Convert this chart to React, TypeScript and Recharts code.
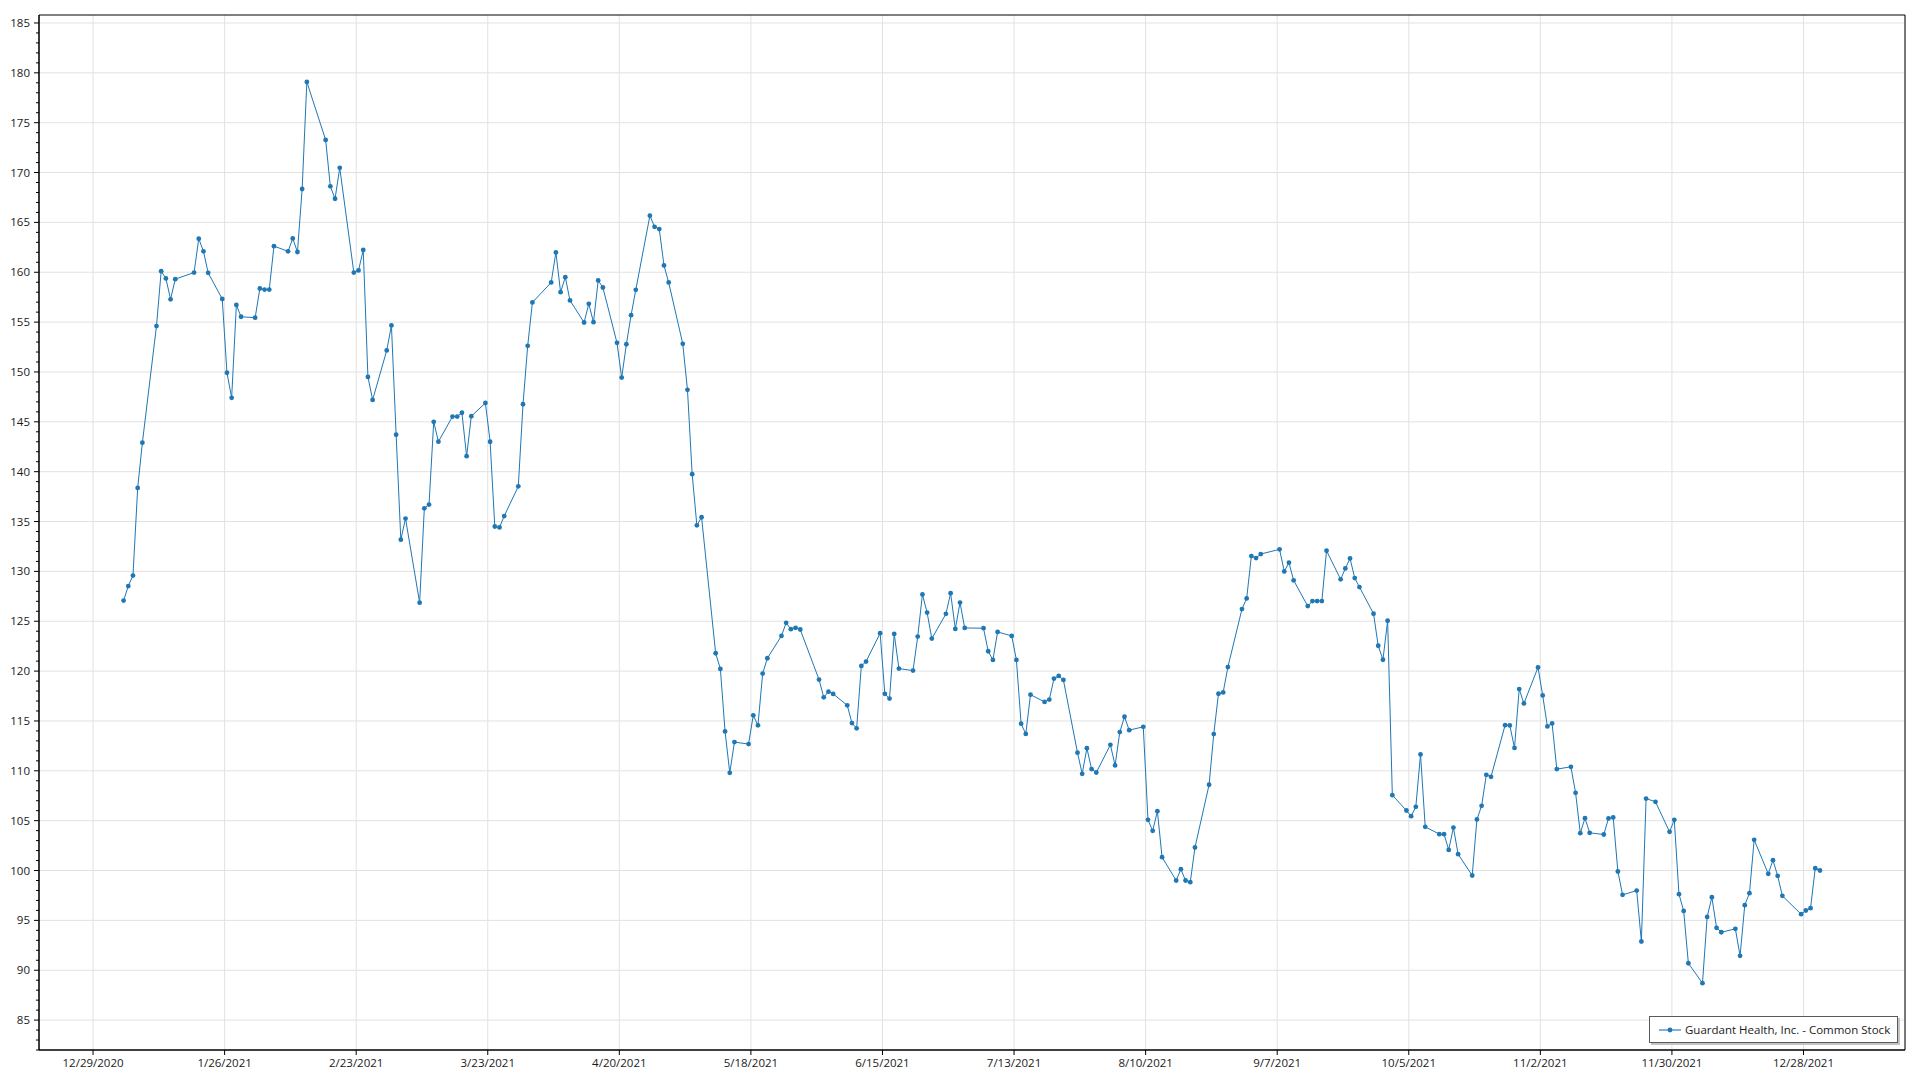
import { LineChart, Line, XAxis, YAxis, CartesianGrid, ReferenceArea } from 'recharts'

const YEAR = 2021
const SERIES_NAME = 'Guardant Health, Inc. - Common Stock'

// trading sessions (M/D, 2021)
const sessionDays = [
  '1/4', '1/5', '1/6', '1/7', '1/8', '1/11', '1/12', '1/13', '1/14', '1/15', '1/19', '1/20', '1/21', '1/22', '1/25', '1/26', '1/27', '1/28', '1/29',
  '2/1', '2/2', '2/3', '2/4', '2/5', '2/8', '2/9', '2/10', '2/11', '2/12', '2/16', '2/17', '2/18', '2/19', '2/22', '2/23', '2/24', '2/25', '2/26',
  '3/1', '3/2', '3/3', '3/4', '3/5', '3/8', '3/9', '3/10', '3/11', '3/12', '3/15', '3/16', '3/17', '3/18', '3/19', '3/22', '3/23', '3/24', '3/25', '3/26', '3/29', '3/30', '3/31',
  '4/1', '4/5', '4/6', '4/7', '4/8', '4/9', '4/12', '4/13', '4/14', '4/15', '4/16', '4/19', '4/20', '4/21', '4/22', '4/23', '4/26', '4/27', '4/28', '4/29', '4/30',
  '5/3', '5/4', '5/5', '5/6', '5/7', '5/10', '5/11', '5/12', '5/13', '5/14', '5/17', '5/18', '5/19', '5/20', '5/21', '5/24', '5/25', '5/26', '5/27', '5/28',
  '6/1', '6/2', '6/3', '6/4', '6/7', '6/8', '6/9', '6/10', '6/11', '6/14', '6/15', '6/16', '6/17', '6/18', '6/21', '6/22', '6/23', '6/24', '6/25', '6/28', '6/29', '6/30',
  '7/1', '7/2', '7/6', '7/7', '7/8', '7/9', '7/12', '7/13', '7/14', '7/15', '7/16', '7/19', '7/20', '7/21', '7/22', '7/23', '7/26', '7/27', '7/28', '7/29', '7/30',
  '8/2', '8/3', '8/4', '8/5', '8/6', '8/9', '8/10', '8/11', '8/12', '8/13', '8/16', '8/17', '8/18', '8/19', '8/20', '8/23', '8/24', '8/25', '8/26', '8/27', '8/30', '8/31',
  '9/1', '9/2', '9/3', '9/7', '9/8', '9/9', '9/10', '9/13', '9/14', '9/15', '9/16', '9/17', '9/20', '9/21', '9/22', '9/23', '9/24', '9/27', '9/28', '9/29', '9/30',
  '10/1', '10/4', '10/5', '10/6', '10/7', '10/8', '10/11', '10/12', '10/13', '10/14', '10/15', '10/18', '10/19', '10/20', '10/21', '10/22', '10/25', '10/26', '10/27', '10/28', '10/29',
  '11/1', '11/2', '11/3', '11/4', '11/5', '11/8', '11/9', '11/10', '11/11', '11/12', '11/15', '11/16', '11/17', '11/18', '11/19', '11/22', '11/23', '11/24', '11/26', '11/29', '11/30',
  '12/1', '12/2', '12/3', '12/6', '12/7', '12/8', '12/9', '12/10', '12/13', '12/14', '12/15', '12/16', '12/17', '12/20', '12/21', '12/22', '12/23', '12/27', '12/28', '12/29', '12/30', '12/31',
]

// closing prices, same order as sessionDays
const closes = [
  127.07, 128.53, 129.58, 138.37, 142.91, 154.6, 160.11, 159.38, 157.29, 159.31, 159.97, 163.36, 162.1, 159.94, 157.32, 149.92, 147.41, 156.72, 155.54,
  155.44, 158.37, 158.26, 158.26, 162.62, 162.1, 163.39, 162.03, 168.35, 179.09, 173.27, 168.62, 167.37, 170.47, 159.97, 160.18, 162.24, 149.5, 147.2,
  152.16, 154.67, 143.71, 133.18, 135.3, 126.86, 136.32, 136.7, 145.0, 143.01, 145.53, 145.53, 145.91, 141.55, 145.56, 146.89, 143.0, 134.5, 134.41, 135.55, 138.53, 146.76, 152.62,
  156.97, 158.98, 161.99, 158.0, 159.51, 157.17, 154.96, 156.83, 154.99, 159.18, 158.47, 152.92, 149.44, 152.78, 155.7, 158.24, 165.67, 164.56, 164.33, 160.68, 158.98,
  152.82, 148.21, 139.75, 134.62, 135.43, 121.79, 120.22, 113.95, 109.8, 112.88, 112.68, 115.56, 114.56, 119.75, 121.29, 123.53, 124.84, 124.2, 124.34, 124.17,
  119.15, 117.37, 117.94, 117.71, 116.57, 114.79, 114.26, 120.52, 120.96, 123.8, 117.72, 117.24, 123.73, 120.25, 120.05, 123.46, 127.68, 125.87, 123.26, 125.74, 127.81, 124.23,
  126.87, 124.33, 124.3, 121.99, 121.12, 123.93, 123.53, 121.12, 114.73, 113.7, 117.64, 116.91, 117.14, 119.25, 119.52, 119.11, 111.82, 109.7, 112.27, 110.17, 109.83,
  112.61, 110.54, 113.88, 115.42, 114.08, 114.41, 105.08, 103.98, 105.95, 101.34, 99.0, 100.13, 99.0, 98.83, 102.31, 108.6, 113.68, 117.73, 117.86, 120.4, 126.22, 127.29,
  131.54, 131.34, 131.74, 132.21, 130.0, 130.87, 129.1, 126.52, 127.02, 127.02, 127.02, 132.07, 129.2, 130.3, 131.3, 129.33, 128.43, 125.75, 122.54, 121.14, 125.05,
  107.56, 106.02, 105.45, 106.39, 111.64, 104.38, 103.65, 103.65, 102.07, 104.31, 101.64, 99.5, 105.12, 106.49, 109.6, 109.4, 114.58, 114.55, 112.3, 118.2, 116.76,
  120.37, 117.56, 114.45, 114.75, 110.17, 110.4, 107.79, 103.75, 105.25, 103.78, 103.61, 105.22, 105.32, 99.9, 97.56, 97.99, 92.88, 107.22, 106.89, 103.88, 105.08,
  97.63, 95.95, 90.7, 88.7, 95.35, 97.32, 94.25, 93.81, 94.15, 91.44, 96.52, 97.73, 103.08, 99.67, 101.04, 99.47, 97.46, 95.62, 95.99, 96.22, 100.23, 100.0,
]

const xTickLabels = [
  '12/29/2020', '1/26/2021', '2/23/2021', '3/23/2021', '4/20/2021', '5/18/2021', '6/15/2021',
  '7/13/2021', '8/10/2021', '9/7/2021', '10/5/2021', '11/2/2021', '11/30/2021', '12/28/2021',
]
const yMajorTicks = [85, 90, 95, 100, 105, 110, 115, 120, 125, 130, 135, 140, 145, 150, 155, 160, 165, 170, 175, 180, 185]

const LINE_COLOR = '#1f77b4'
const TEXT_COLOR = '#1a1a1a'
const GRID_COLOR = '#e2e2e2'
const FONT = "'Open Sans', sans-serif"

const dayNum = (y: number, m: number, d: number) => Date.UTC(y, m - 1, d) / 86400000

// sessions are stamped at midday
const data = sessionDays.map((md, i) => {
  const [m, d] = md.split('/').map(Number)
  return { t: dayNum(YEAR, m, d) + 0.5, close: closes[i] }
})

const xTicks = xTickLabels.map((s) => {
  const [m, d, y] = s.split('/').map(Number)
  return dayNum(y, m, d)
})
const X_DOMAIN: [number, number] = [xTicks[0] - 11.5, xTicks[0] + 385.6]
const Y_DOMAIN: [number, number] = [82, 185.8]

const yAllTicks: number[] = []
for (let v = 82; v <= 185; v++) yAllTicks.push(v)

const Y_TICK_SIZE = 5
const Y_TICK_MARGIN = 4

// eslint-disable-next-line @typescript-eslint/no-explicit-any
function PriceTick({ x, y, payload }: any) {
  const v = payload.value
  const major = v % 5 === 0
  const axisX = x + Y_TICK_SIZE + Y_TICK_MARGIN
  return (
    <g>
      <line x1={axisX - (major ? 5 : 3)} x2={axisX} y1={y} y2={y} stroke="#000" />
      {major && (
        <text x={x} y={y} dy="0.355em" textAnchor="end" fill={TEXT_COLOR} fontSize={11.5} fontFamily={FONT}>
          {v}
        </text>
      )}
    </g>
  )
}

function LegendBox() {
  return (
    <div
      style={{
        position: 'absolute', left: 1649, top: 1016, width: 249, height: 27,
        boxSizing: 'border-box', border: '1px solid #5a5a5a', background: '#fff',
        boxShadow: '2px 2px 0 #c4c4c4', display: 'flex', alignItems: 'center',
        fontFamily: FONT, fontSize: 11.5, color: TEXT_COLOR,
      }}
    >
      <svg width={22} height={10} style={{ marginLeft: 9, marginRight: 4 }}>
        <line x1={0} x2={22} y1={5} y2={5} stroke="#7fb1d9" strokeWidth={2} />
        <circle cx={11} cy={5} r={2.4} fill={LINE_COLOR} />
      </svg>
      <span style={{ whiteSpace: 'nowrap' }}>{SERIES_NAME}</span>
    </div>
  )
}

export default function App() {
  return (
    <div style={{ position: 'absolute', left: 0, top: 0, width: 1920, height: 1080, background: '#fff', fontFamily: FONT }}>
      <LineChart width={1920} height={1080} data={data} margin={{ top: 15, right: 15, bottom: 0, left: 0 }}>
        <CartesianGrid stroke={GRID_COLOR} horizontalValues={yMajorTicks} />
        <XAxis
          dataKey="t"
          type="number"
          domain={X_DOMAIN}
          allowDataOverflow
          ticks={xTicks}
          interval={0}
          height={30}
          tickFormatter={(v: number) => xTickLabels[xTicks.indexOf(v)] ?? ''}
          tick={{ fill: TEXT_COLOR, fontSize: 11.5, fontFamily: FONT }}
          tickSize={5}
          tickMargin={4}
          axisLine={{ stroke: '#000' }}
          tickLine={{ stroke: '#000' }}
        />
        <YAxis
          type="number"
          domain={Y_DOMAIN}
          allowDataOverflow
          ticks={yAllTicks}
          interval={0}
          width={39}
          tick={<PriceTick />}
          tickSize={Y_TICK_SIZE}
          tickMargin={Y_TICK_MARGIN}
          tickLine={false}
          axisLine={{ stroke: '#000' }}
        />
        <ReferenceArea
          x1={X_DOMAIN[0]}
          x2={X_DOMAIN[1]}
          y1={Y_DOMAIN[0]}
          y2={Y_DOMAIN[1]}
          fill="none"
          stroke="#000"
          strokeWidth={1}
          ifOverflow="visible"
        />
        <Line
          type="linear"
          dataKey="close"
          name={SERIES_NAME}
          stroke={LINE_COLOR}
          strokeWidth={1}
          dot={{ r: 2.4, fill: LINE_COLOR, stroke: 'none' }}
          activeDot={false}
          isAnimationActive={false}
        />
      </LineChart>
      <LegendBox />
    </div>
  )
}
